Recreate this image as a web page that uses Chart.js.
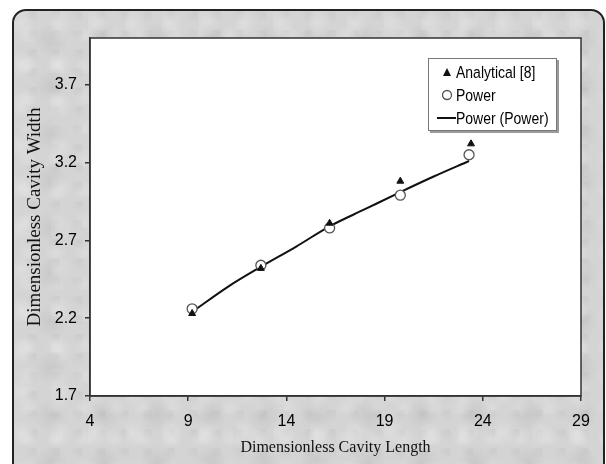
<!DOCTYPE html>
<html lang="en">
<head>
    <meta charset="UTF-8">
    <title>Dimensionless Cavity Width vs Length</title>
    <script src="https://cdn.jsdelivr.net/npm/chart.js"></script>
    <style>
        html, body { margin: 0; padding: 0; background: #fff; }
        #page { position: relative; width: 606px; height: 464px; overflow: hidden; }
        /* cadre gris arrondi derrière le graphique */
        #frame {
            position: absolute; left: 12px; top: 9px; width: 589px; height: 470px;
            border: 2px solid #222; border-radius: 14px;
            background-color: #d4d4d4;
            background-image:
                radial-gradient(circle at 20% 30%, rgba(255,255,255,0.22) 0, rgba(255,255,255,0) 14px),
                radial-gradient(circle at 70% 60%, rgba(140,140,140,0.16) 0, rgba(140,140,140,0) 17px),
                radial-gradient(circle at 45% 80%, rgba(255,255,255,0.18) 0, rgba(255,255,255,0) 11px),
                radial-gradient(circle at 85% 15%, rgba(160,160,160,0.14) 0, rgba(160,160,160,0) 9px);
            background-size: 37px 41px, 53px 47px, 29px 31px, 23px 19px;
        }
        #chart { position: absolute; left: 0; top: 0; }
        #legend {
            position: absolute; left: 428px; top: 58px; width: 127px; height: 71px;
            background: #fff; border: 1px solid #777;
            box-shadow: 2px 2px 0 #9a9a9a;
            font-family: "Liberation Sans", Arial, sans-serif; font-size: 14px; color: #000;
        }
        .item { position: absolute; left: 27px; line-height: 16px; white-space: nowrap;
                transform: scaleY(1.12); transform-origin: left center; }
        .mark { position: absolute; }
    </style>
</head>
<body>
<div id="page">
    <div id="frame"></div>
    <canvas id="chart" width="606" height="464"></canvas>
    <div id="legend">
        <svg class="mark" style="left:14px;top:9px" width="8" height="8"><polygon points="4,0 8,8 0,8" fill="#111"/></svg>
        <div class="item" style="top:5px">Analytical [8]</div>
        <svg class="mark" style="left:12px;top:30px" width="12" height="12"><circle cx="6" cy="6" r="4.5" fill="#fff" stroke="#555" stroke-width="1.3"/></svg>
        <div class="item" style="top:28px">Power</div>
        <svg class="mark" style="left:8px;top:57px" width="19" height="4"><line x1="0" y1="2" x2="19" y2="2" stroke="#111" stroke-width="2"/></svg>
        <div class="item" style="top:51px">Power (Power)</div>
    </div>
</div>

<script>
    // Données
    const analyticalX = [9.2, 12.7, 16.2, 19.8, 23.4];
    const analyticalY = [2.23, 2.52, 2.81, 3.08, 3.32];
    const powerX = [9.2, 12.7, 16.2, 19.8, 23.3];
    const powerY = [2.26, 2.54, 2.78, 2.99, 3.25];
    // courbe de tendance (puissance)
    const fitX = [9.2, 11, 12.7, 14.5, 16.2, 18, 19.8, 21.5, 23.3];
    const fitY = [2.24, 2.40, 2.53, 2.66, 2.79, 2.90, 3.01, 3.11, 3.21];
    // graduations
    const xTicks = [4, 9, 14, 19, 24, 29];
    const yTicks = [1.7, 2.2, 2.7, 3.2, 3.7];

    const pts = (xs, ys) => xs.map((x, i) => ({ x: x, y: ys[i] }));

    // fond blanc + cadre de la zone de tracé
    const plotFrame = {
        id: 'plotFrame',
        beforeDraw(chart) {
            const a = chart.chartArea, ctx = chart.ctx;
            ctx.save();
            ctx.fillStyle = '#fff';
            ctx.fillRect(a.left, a.top, a.right - a.left, a.bottom - a.top);
            ctx.restore();
        },
        afterDraw(chart) {
            const a = chart.chartArea, ctx = chart.ctx;
            ctx.save();
            ctx.strokeStyle = '#333';
            ctx.lineWidth = 1.5;
            ctx.strokeRect(a.left, a.top, a.right - a.left, a.bottom - a.top);
            ctx.restore();
        }
    };

    const tickFont = { family: '"Liberation Sans", Arial, sans-serif', size: 16 };

    new Chart(document.getElementById('chart'), {
        type: 'scatter',
        data: {
            datasets: [
                {
                    label: 'Analytical [8]',
                    data: pts(analyticalX, analyticalY),
                    pointStyle: 'triangle',
                    pointRadius: 4,
                    backgroundColor: '#111',
                    borderColor: '#111',
                    borderWidth: 1,
                    order: 0
                },
                {
                    label: 'Power',
                    data: pts(powerX, powerY),
                    pointStyle: 'circle',
                    pointRadius: 5,
                    backgroundColor: '#fff',
                    borderColor: '#555',
                    borderWidth: 1.3,
                    order: 1
                },
                {
                    label: 'Power (Power)',
                    data: pts(fitX, fitY),
                    showLine: true,
                    pointRadius: 0,
                    borderColor: '#111',
                    borderWidth: 2,
                    cubicInterpolationMode: 'monotone',
                    order: 2
                }
            ]
        },
        options: {
            responsive: false,
            animation: false,
            layout: { padding: { left: 22, right: 25, top: 38, bottom: 5 } },
            plugins: { legend: { display: false }, tooltip: { enabled: false } },
            scales: {
                x: {
                    type: 'linear', min: 4, max: 29,
                    afterBuildTicks: s => { s.ticks = xTicks.map(v => ({ value: v })); },
                    afterFit: s => { s.height = 63; },
                    grid: { drawOnChartArea: false, drawTicks: true, tickLength: 5, color: '#333', lineWidth: 1.5 },
                    border: { color: '#333', width: 1.5 },
                    ticks: { color: '#000', font: tickFont, padding: 11, maxRotation: 0 },
                    title: {
                        display: true, text: 'Dimensionless Cavity Length', color: '#111',
                        font: { family: '"Liberation Serif", "Times New Roman", serif', size: 16 },
                        padding: { top: 2, bottom: 2 }
                    }
                },
                y: {
                    type: 'linear', min: 1.7, max: 4.0,
                    afterBuildTicks: s => { s.ticks = yTicks.map(v => ({ value: v })); },
                    afterFit: s => { s.width = 68; },
                    grid: { drawOnChartArea: false, drawTicks: true, tickLength: 5, color: '#333', lineWidth: 1.5 },
                    border: { color: '#333', width: 1.5 },
                    ticks: { color: '#000', font: tickFont, padding: 8, callback: v => v.toFixed(1) },
                    title: {
                        display: true, text: 'Dimensionless Cavity Width', color: '#111',
                        font: { family: '"Liberation Serif", "Times New Roman", serif', size: 19 },
                        padding: { top: 2, bottom: 2 }
                    }
                }
            }
        },
        plugins: [plotFrame]
    });
</script>
</body>
</html>
